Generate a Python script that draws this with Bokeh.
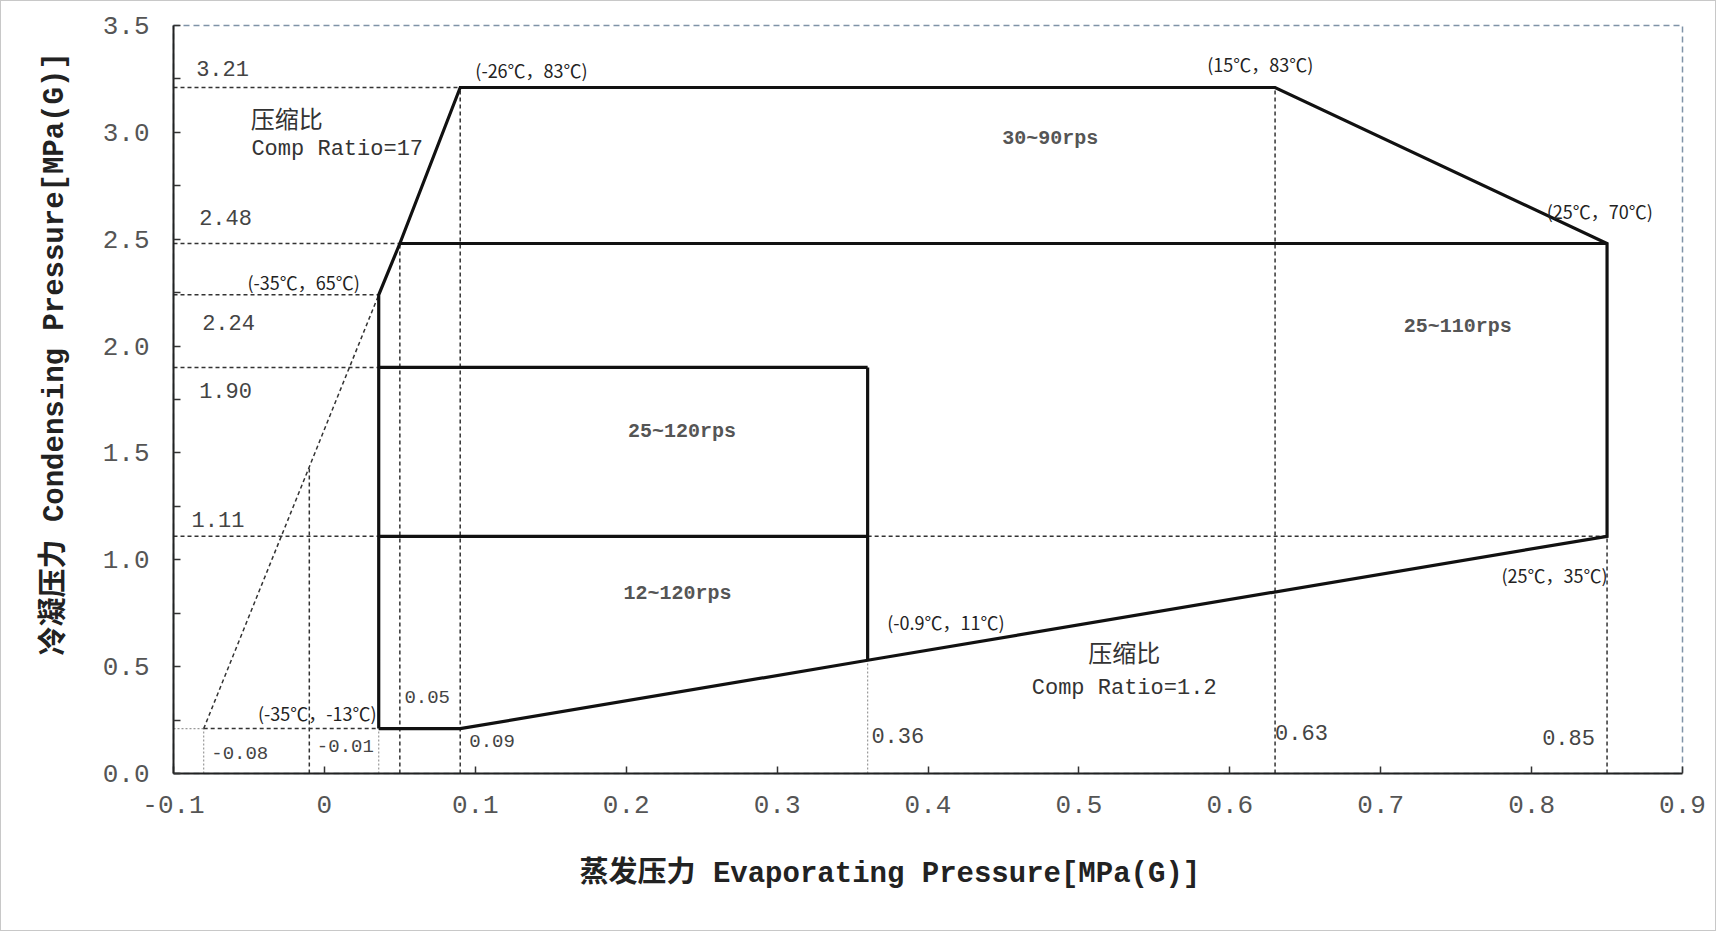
from bokeh.plotting import figure
from bokeh.models import Label, FixedTicker, Range1d, Title
from bokeh.core.properties import value
from bokeh.embed import file_html
from bokeh.resources import INLINE

# ---------------- data ----------------
x_ticks = [-0.1, 0.0, 0.1, 0.2, 0.3, 0.4, 0.5, 0.6, 0.7, 0.8, 0.9]
x_tick_labels = ["-0.1", "0", "0.1", "0.2", "0.3", "0.4", "0.5", "0.6", "0.7", "0.8", "0.9"]
y_ticks = [0.0, 0.5, 1.0, 1.5, 2.0, 2.5, 3.0, 3.5]
y_tick_labels = ["0.0", "0.5", "1.0", "1.5", "2.0", "2.5", "3.0", "3.5"]
y_minor_ticks = [0.25, 0.75, 1.25, 1.75, 2.25, 2.75, 3.25]

x_title = "蒸发压力 Evaporating Pressure[MPa(G)]"
y_title = "冷凝压力 Condensing Pressure[MPa(G)]"

# key evaporating / condensing pressures [MPa(G)]
evap_a = -0.08
evap_b = -0.01
evap_c = 0.036
evap_d = 0.05
evap_e = 0.09
evap_f = 0.36
evap_g = 0.63
evap_h = 0.85
cond_1 = 0.21
cond_2 = 1.11
cond_3 = 1.90
cond_4 = 2.24
cond_5 = 2.48
cond_6 = 3.21

# low compression-ratio line (ratio 1.2) from (0.09,0.21) to (0.85,1.11)
def low_line(x):
    return cond_1 + (x - evap_e) * (cond_2 - cond_1) / (evap_h - evap_e)

# high compression-ratio extension from (-0.08,0.21) to (0.036,2.24)
def high_line(x):
    return cond_1 + (x - evap_a) * (cond_4 - cond_1) / (evap_c - evap_a)

cond_f = low_line(evap_f)
cond_b = high_line(evap_b)

envelope_x = [evap_c, evap_e, evap_f, evap_h, evap_h, evap_g, evap_e, evap_d, evap_c, evap_c]
envelope_y = [cond_1, cond_1, cond_f, cond_2, cond_5, cond_6, cond_6, cond_5, cond_4, cond_1]

inner_x0 = [evap_c, evap_c, evap_f, evap_d]
inner_y0 = [cond_2, cond_3, cond_3, cond_5]
inner_x1 = [evap_f, evap_f, evap_f, evap_h]
inner_y1 = [cond_2, cond_3, cond_f, cond_5]

xmin, xmax, ymin, ymax = -0.1, 0.9, 0.0, 3.5

guide_x0 = [xmin, xmin, xmin, xmin, xmin, evap_f, evap_a, evap_e, evap_d, evap_g, evap_h, evap_b, evap_a]
guide_y0 = [cond_6, cond_5, cond_4, cond_3, cond_2, cond_2, cond_1, ymin, ymin, ymin, ymin, ymin, cond_1]
guide_x1 = [evap_e, evap_d, evap_c, evap_c, evap_c, evap_h, evap_c, evap_e, evap_d, evap_g, evap_h, evap_b, evap_c]
guide_y1 = [cond_6, cond_5, cond_4, cond_3, cond_2, cond_2, cond_1, cond_6, cond_5, cond_6, cond_2, cond_b, cond_4]

faint_x0 = [xmin, evap_a, evap_c, evap_f]
faint_y0 = [cond_1, ymin, ymin, ymin]
faint_x1 = [evap_a, evap_a, evap_c, evap_f]
faint_y1 = [cond_1, cond_1, cond_1, cond_f]

# annotation texts
value_texts = ["3.21", "2.48", "2.24", "1.90", "1.11", "0.36", "0.63", "0.85"]
value_tx = [-0.085, -0.083, -0.081, -0.083, -0.088, 0.3625, 0.630, 0.807]
value_ty = [3.30, 2.60, 2.11, 1.79, 1.19, 0.18, 0.19, 0.17]

small_texts = ["-0.08", "-0.01", "0.09", "0.05"]
small_tx = [-0.075, -0.005, 0.096, 0.053]
small_ty = [0.095, 0.13, 0.15, 0.36]

point_texts = ["(-26℃，83℃)", "(15℃，83℃)", "(25℃，70℃)", "(-35℃，65℃)",
               "(-0.9℃，11℃)", "(25℃，35℃)", "(-35℃，-13℃)"]
point_tx = [0.100, 0.585, 0.810, -0.051, 0.373, 0.780, -0.044]
point_ty = [3.29, 3.32, 2.63, 2.30, 0.71, 0.93, 0.285]

speed_texts = ["30~90rps", "25~110rps", "25~120rps", "12~120rps"]
speed_tx = [0.481, 0.751, 0.237, 0.234]
speed_ty = [2.97, 2.09, 1.60, 0.84]

ratio_cn = ["压缩比", "压缩比"]
ratio_cn_x = [-0.025, 0.530]
ratio_cn_y = [3.07, 0.57]
ratio_en = ["Comp Ratio=17", "Comp Ratio=1.2"]
ratio_en_x = [0.0085, 0.530]
ratio_en_y = [2.92, 0.40]

# ---------------- figure ----------------
MONO = "'Liberation Mono', 'Noto Sans CJK SC'"
CJK = "'Noto Sans CJK SC'"

p = figure(width=1716, height=931, output_backend="svg", toolbar_location=None,
           x_range=Range1d(xmin, xmax), y_range=Range1d(ymin, ymax),
           min_border_left=172, min_border_right=35, min_border_top=24, min_border_bottom=159)
p.styles = {"border": "1px solid #c8c8c8"}
p.background_fill_color = "white"
p.border_fill_color = "white"
p.xgrid.visible = False
p.ygrid.visible = False
p.outline_line_color = "#7f93a8"
p.outline_line_dash = "6 4"
p.outline_line_width = 1.5

p.xaxis.ticker = FixedTicker(ticks=x_ticks, minor_ticks=[])
p.xaxis.major_label_overrides = {t: l for t, l in zip(x_ticks, x_tick_labels)}
p.yaxis.ticker = FixedTicker(ticks=y_ticks, minor_ticks=y_minor_ticks)
p.yaxis.major_label_overrides = {t: l for t, l in zip(y_ticks, y_tick_labels)}

for ax in (p.xaxis[0], p.yaxis[0]):
    ax.axis_line_color = "#222222"
    ax.axis_line_width = 2
    ax.major_tick_in = 7
    ax.major_tick_out = 0
    ax.minor_tick_in = 7
    ax.minor_tick_out = 0
    ax.major_tick_line_color = "#333333"
    ax.minor_tick_line_color = "#333333"
    ax.major_tick_line_width = 1.5
    ax.minor_tick_line_width = 1.5
    ax.major_label_text_font = MONO
    ax.major_label_text_font_size = "26px"
    ax.major_label_text_color = "#555555"

p.xaxis.major_label_standoff = 22
p.yaxis.major_label_standoff = 24

# axis titles, as side titles (slightly off-centre like the reference)
p.add_layout(Title(text=x_title, align="left", offset=406, standoff=80,
                   text_font=MONO, text_font_size="29px", text_font_style="bold",
                   text_color="#222222"), "below")
p.add_layout(Title(text=y_title, align="left", offset=118, standoff=56,
                   text_font=MONO, text_font_size="29px", text_font_style="bold",
                   text_color="#222222"), "left")

# faint dotted guides
p.segment(x0=faint_x0, y0=faint_y0, x1=faint_x1, y1=faint_y1,
          line_color="#999999", line_width=1.2, line_dash="2 2")
# dashed guides
p.segment(x0=guide_x0, y0=guide_y0, x1=guide_x1, y1=guide_y1,
          line_color="#333333", line_width=1.5, line_dash="4 3")
# envelope
p.line(envelope_x, envelope_y, line_color="#111111", line_width=3.2, line_join="miter")
p.segment(x0=inner_x0, y0=inner_y0, x1=inner_x1, y1=inner_y1,
          line_color="#111111", line_width=3.2)

# texts
p.text(x=value_tx, y=value_ty, text=value_texts, text_font=value(MONO),
       text_font_size="22px", text_color="#444444", text_baseline="middle", text_align="left")
p.text(x=small_tx, y=small_ty, text=small_texts, text_font=value(MONO),
       text_font_size="19px", text_color="#444444", text_baseline="middle", text_align="left")
p.text(x=point_tx, y=point_ty, text=point_texts, text_font=value(CJK),
       text_font_size="18px", text_color="#222222", text_baseline="middle", text_align="left")
p.text(x=speed_tx, y=speed_ty, text=speed_texts, text_font=value(MONO),
       text_font_size="20px", text_font_style="bold", text_color="#555555",
       text_baseline="middle", text_align="center")
p.text(x=ratio_cn_x, y=ratio_cn_y, text=ratio_cn, text_font=value(CJK),
       text_font_size="24px", text_color="#333333", text_baseline="middle", text_align="center")
p.text(x=ratio_en_x, y=ratio_en_y, text=ratio_en, text_font=value(MONO),
       text_font_size="22px", text_color="#333333", text_baseline="middle", text_align="center")

# labels outside the frame
p.add_layout(Label(x=xmin, y=cond_1, text="0.21", x_offset=-14, text_align="right",
                   text_baseline="middle", text_font=MONO, text_font_size="22px",
                   text_color="#444444"))
p.add_layout(Label(x=evap_c, y=ymin, text="0.036", y_offset=-22, text_align="center",
                   text_baseline="middle", text_font=MONO, text_font_size="19px",
                   text_color="#444444"))

open("out.html", "w").write(file_html(p, INLINE))
